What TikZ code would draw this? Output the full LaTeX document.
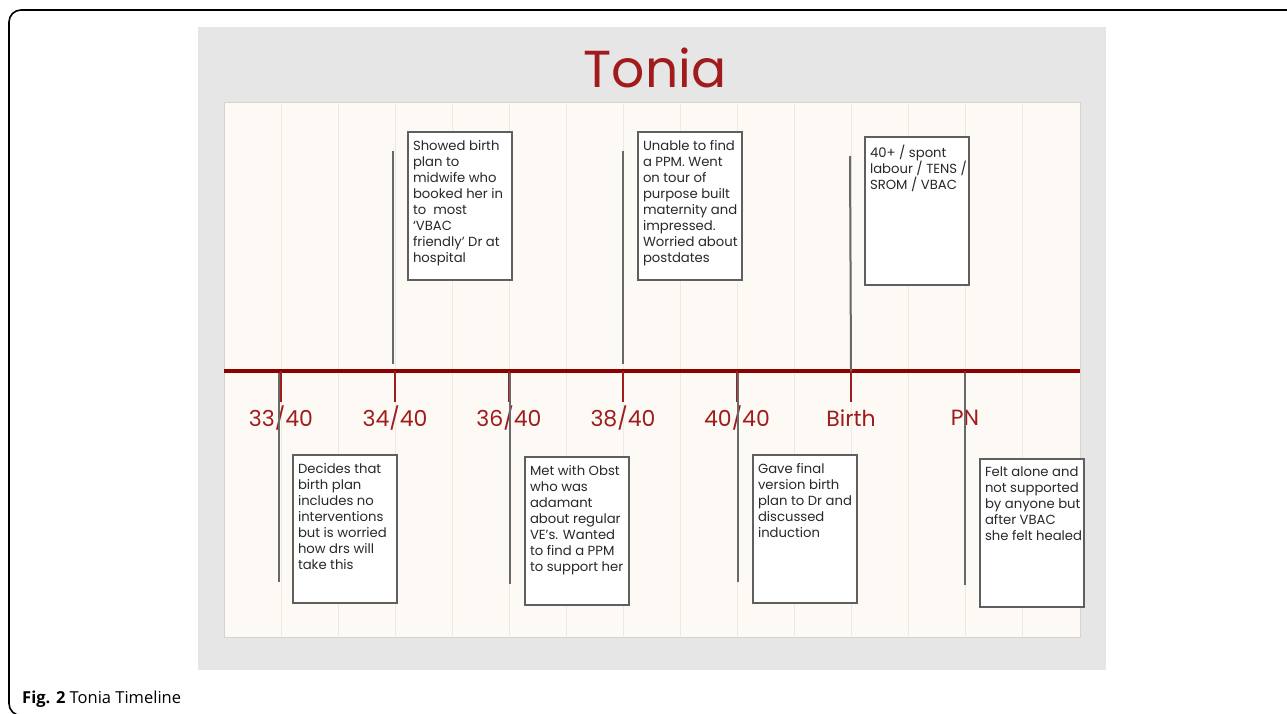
\documentclass[tikz,border=0pt]{standalone}
\usepackage{fontspec}
\setmainfont{Poppins}
\newfontfamily\capfont{Open Sans}
\definecolor{panelgrey}{RGB}{230,230,230}
\definecolor{cream}{RGB}{253,250,245}
\definecolor{gridc}{RGB}{236,232,226}
\definecolor{linered}{RGB}{140,0,0}
\definecolor{labred}{RGB}{160,28,28}
\definecolor{conngrey}{RGB}{105,105,105}
\definecolor{boxgrey}{RGB}{95,95,95}
\definecolor{txt}{RGB}{40,40,40}
\newcommand{\btext}[1]{\begin{minipage}[t][148pt][t]{104pt}\vspace*{8pt}\raggedright\leftskip=5pt\relax #1\end{minipage}}
\begin{document}
\begin{tikzpicture}[x=1pt,y=-1pt,
  tickmark/.style={line width=2.6pt, labred},
  lab/.style={text=labred, font=\fontsize{22}{22}\selectfont, inner sep=0pt},
  conn/.style={line width=2pt, conngrey},
  evbox/.style={draw=boxgrey, line width=2pt, fill=white, inner sep=0pt, anchor=north west, text=txt, font=\fontsize{13.2}{16}\selectfont}]
\clip (0,0) rectangle (1287,714);
\draw[line width=1.6pt, rounded corners=12pt] (9,10) rectangle (1310,715.5);
\fill[panelgrey] (198,27) rectangle (1106,670);
\filldraw[fill=cream, draw=gridc!80!gray, line width=1pt] (224,103) rectangle (1080,637);
\foreach \i in {1,...,14} \draw[gridc, line width=1pt] ({224+57*\i},104) -- ({224+57*\i},636);
\node[text=labred, font=\fontsize{52}{52}\selectfont, inner sep=0pt] (title) at (655,68) {Tonia};
% timeline
\coordinate (L) at (224,371);
\coordinate (R) at (1080,371);
\draw[line width=4.5pt, linered] (L) -- (R);
\foreach \n/\x in {t1/281,t2/395,t3/509,t4/623,t5/737,t6/851,t7/965} {
  \coordinate (\n) at (\x,371);
  \coordinate (\n e) at (\x,402);
  \draw[tickmark] (\n) -- (\n e);
}
\node[lab] (l1) at (281,418) {33/40};
\node[lab] (l2) at (395,418) {34/40};
\node[lab] (l3) at (509,418) {36/40};
\node[lab] (l4) at (623,418) {38/40};
\node[lab] (l5) at (737,418) {40/40};
\node[lab] (l6) at (851,418) {Birth};
\node[lab] (l7) at (965,418) {PN};
% connectors
\coordinate (u2) at (393,151); \coordinate (u2b) at (393,364);
\coordinate (u4) at (623,151); \coordinate (u4b) at (623,364);
\coordinate (u6) at (850,156);
\coordinate (d1) at (279,373); \coordinate (d1b) at (279,582);
\coordinate (d3) at (510,373); \coordinate (d3b) at (510,584);
\coordinate (d5) at (738,373); \coordinate (d5b) at (738,582);
\coordinate (d7) at (965,373); \coordinate (d7b) at (965,585);
\draw[conn] (u2) -- (u2b);
\draw[conn] (u4) -- (u4b);
\draw[conn] (u6) -- (t6);
\draw[conn] (d1) -- (d1b);
\draw[conn] (d3) -- (d3b);
\draw[conn] (d5) -- (d5b);
\draw[conn] (d7) -- (d7b);
% boxes
\node[evbox] (b1) at (407,131) {\btext{Showed birth\\plan to\\midwife who\\booked her in\\to\ \ most\\‘VBAC\\friendly’ Dr at\\hospital}};
\node[evbox] (b2) at (637,131) {\btext{Unable to find\\a PPM. Went\\on tour of\\purpose built\\maternity and\\impressed.\\Worried about\\postdates}};
\node[evbox] (b3) at (864,136) {\btext{40+ / spont\\labour / TENS /\\SROM / VBAC}};
\node[evbox] (b4) at (292,454) {\btext{Decides that\\birth plan\\includes no\\interventions\\but is worried\\how drs will\\take this}};
\node[evbox] (b5) at (524,456) {\btext{Met with Obst\\who was\\adamant\\about regular\\VE’s. Wanted\\to find a PPM\\to support her}};
\node[evbox] (b6) at (752,454) {\btext{Gave final\\version birth\\plan to Dr and\\discussed\\induction}};
\node[evbox] (b7) at (979,458) {\btext{Felt alone and\\not supported\\by anyone but\\after VBAC\\she felt healed}};
\node[anchor=base west, inner sep=0pt, font=\capfont\fontsize{16.5}{16.5}\selectfont] (cap) at (22,703) {\textbf{Fig. 2} Tonia Timeline};
\end{tikzpicture}
\end{document}
